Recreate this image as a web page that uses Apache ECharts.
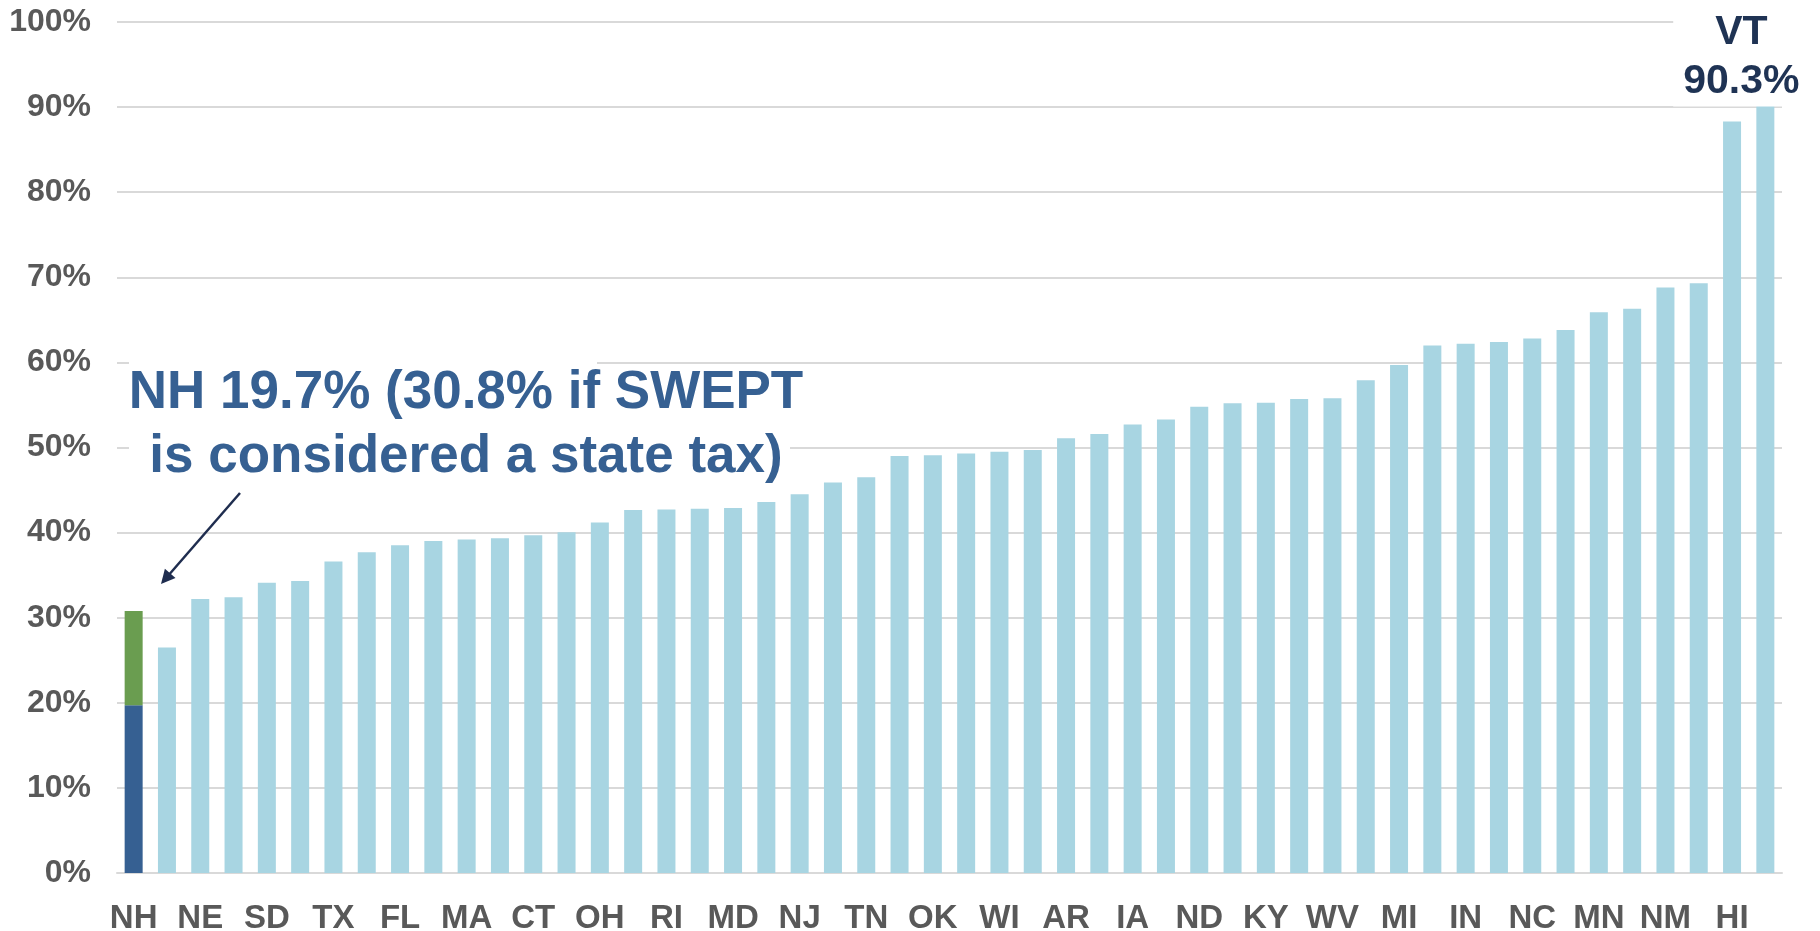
<!DOCTYPE html>
<html>
<head>
<meta charset="utf-8">
<script src="https://cdn.jsdelivr.net/npm/echarts@6/dist/echarts.min.js"></script>
<style>
  html, body { margin: 0; padding: 0; background: #fff; }
  #chart { width: 1820px; height: 931px; }
</style>
</head>
<body>
<div id="chart"></div>
<script>
// states ranked low -> high, only every other one is named on the axis
const states = [
  'NH', '', 'NE', '', 'SD', '', 'TX', '', 'FL', '',
  'MA', '', 'CT', '', 'OH', '', 'RI', '', 'MD', '',
  'NJ', '', 'TN', '', 'OK', '', 'WI', '', 'AR', '',
  'IA', '', 'ND', '', 'KY', '', 'WV', '', 'MI', '',
  'IN', '', 'NC', '', 'MN', '', 'NM', '', 'HI', 'VT'
]
// share (%) per state
const taxShare = [
  19.7, 26.5, 32.2, 32.4, 34.1, 34.3, 36.6, 37.7, 38.5, 39.0,
  39.2, 39.35, 39.7, 40.05, 41.2, 42.65, 42.7, 42.8, 42.9, 43.6,
  44.5, 45.9, 46.5, 49.0, 49.1, 49.3, 49.5, 49.7, 51.1, 51.6,
  52.7, 53.3, 54.8, 55.2, 55.25, 55.7, 55.8, 57.9, 59.7, 62.0,
  62.2, 62.4, 62.8, 63.8, 65.9, 66.3, 68.8, 69.3, 88.3, 90.3
]
// extra for NH if SWEPT counts as a state tax (30.8 - 19.7)
const sweptExtra = [11.1]

const font = 'Arial, "Liberation Sans", sans-serif'
const gray = '#595959'
const gridColor = '#d9d9d9'
const barBlue = '#a8d5e2'
const nhBlue = '#366092'
const sweptGreen = '#6a9d50'
const navy = '#1f3354'

const chart = echarts.init(document.getElementById('chart'))

// label for the top state
const topLabel = {
  show: true,
  position: 'top',
  distance: -2,
  offset: [-24, 0],
  formatter: p => `${p.name}\n${p.value}%`,
  fontFamily: font,
  fontSize: 41,
  fontWeight: 'bold',
  lineHeight: 49,
  color: navy,
  backgroundColor: '#fff',
  padding: [0, 10, 0, 10]
}

const option = {
  animation: false,
  // fixed plot box, don't let labels shrink it
  grid: { left: 117, right: 38, top: 22, bottom: 58, outerBoundsMode: 'none' },
  xAxis: {
    type: 'category',
    data: states,
    axisTick: { show: false },
    axisLine: { lineStyle: { color: gridColor, width: 2 } },
    axisLabel: {
      interval: 1,
      margin: 29,
      color: gray,
      fontFamily: font,
      fontSize: 33,
      fontWeight: 'bold'
    }
  },
  yAxis: {
    type: 'value',
    min: 0,
    max: 100,
    interval: 10,
    axisLine: { show: false },
    axisTick: { show: false },
    splitLine: { lineStyle: { color: gridColor, width: 2 } },
    axisLabel: {
      formatter: '{value}%',
      margin: 26,
      color: gray,
      fontFamily: font,
      fontSize: 32,
      fontWeight: 'bold'
    }
  },
  series: [
    {
      name: 'State taxes',
      type: 'bar',
      stack: 'total',
      barWidth: 18,
      itemStyle: { color: p => (p.dataIndex === 0 ? nhBlue : barBlue) },
      data: taxShare.map((v, i) => (i === taxShare.length - 1 ? { value: v, label: topLabel } : v))
    },
    {
      name: 'SWEPT',
      type: 'bar',
      stack: 'total',
      barWidth: 18,
      itemStyle: { color: sweptGreen },
      data: taxShare.map((v, i) => (sweptExtra[i] !== undefined ? sweptExtra[i] : '-'))
    }
  ],
  graphic: [
    // white boxes behind the note (hide gridlines)
    { type: 'rect', z: 50, shape: { x: 129, y: 352, width: 468, height: 60 }, style: { fill: '#fff' } },
    { type: 'rect', z: 50, shape: { x: 129, y: 412, width: 661, height: 70 }, style: { fill: '#fff' } },
    {
      type: 'text',
      z: 51,
      x: 466,
      y: 361,
      style: {
        text: 'NH 19.7% (30.8% if SWEPT\nis considered a state tax)',
        font: 'bold 53px Arial, "Liberation Sans", sans-serif',
        fill: nhBlue,
        align: 'center',
        verticalAlign: 'top',
        lineHeight: 64
      }
    },
    // arrow to NH bar
    { type: 'line', z: 51, shape: { x1: 240, y1: 493, x2: 167, y2: 577 }, style: { stroke: '#1f2d4f', lineWidth: 2.5 } },
    { type: 'polygon', z: 51, shape: { points: [[161, 584], [175.5, 578], [164.9, 568.8]] }, style: { fill: '#1f2d4f' } }
  ]
}

chart.setOption(option)
</script>
</body>
</html>
